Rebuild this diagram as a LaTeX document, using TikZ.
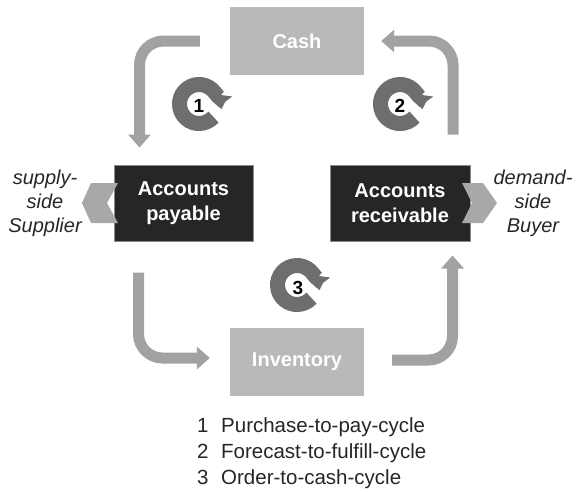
\documentclass[tikz,border=0pt]{standalone}
\usepackage{fontspec}
\setmainfont{Liberation Sans}
\usetikzlibrary{arrows.meta}
\definecolor{lightbox}{HTML}{B9B9B9}
\definecolor{darkbox}{HTML}{262626}
\definecolor{boxrim}{HTML}{8C8C8C}
\definecolor{flowgray}{HTML}{A2A2A2}
\definecolor{cyclegray}{HTML}{6E6E6E}
\definecolor{chevgray}{HTML}{A8A8A8}
\tikzset{
  lightnode/.style={fill=lightbox, minimum width=134pt, minimum height=68pt, inner sep=0pt,
    text=white, font=\fontsize{20}{24}\selectfont\bfseries},
  darknode/.style={fill=darkbox, draw=boxrim, line width=1pt, minimum height=76pt, inner sep=0pt,
    text=white, align=center, font=\fontsize{20}{25}\selectfont\bfseries},
  flow/.style={draw=flowgray, line width=11pt, rounded corners=24pt,
    -{Triangle[width=22pt,length=13pt]}},
  cyclearrow/.style={draw=cyclegray, line width=15pt,
    -{Triangle[width=24pt,length=12pt]}},
  cyclenum/.style={font=\fontsize{19}{19}\selectfont\bfseries, text=black, inner sep=0pt},
  sidetext/.style={align=center, font=\fontsize{20}{24}\selectfont\itshape, text=black!85},
  chevron/.style={fill=chevgray},
}
\begin{document}
\begin{tikzpicture}[x=1pt, y=-1pt]
\useasboundingbox (0,0) rectangle (587,491);

% boxes
\node[lightnode] (cash) at (297,41) {Cash};
\node[lightnode] (inv) at (297,362) {Inventory};
\node[darknode, minimum width=139pt] (ap) at (183.5,203) {Accounts\\payable};
\node[darknode, minimum width=140pt] (ar) at (400,203) {Accounts\\receivable};

% bent block arrows between the boxes
\draw[flow] ([xshift=-30pt]cash.west) -| ([xshift=26pt,yshift=17pt]ap.north west);
\draw[flow] ([xshift=-17.5pt,yshift=30pt]ar.north east) |- ([xshift=17pt]cash.east);
\draw[flow] ([xshift=25pt,yshift=-31pt]ap.south west) |- ([xshift=-20pt,yshift=4pt]inv.west);
\draw[flow] ([xshift=28pt,yshift=2pt]inv.east) -| ([xshift=-18pt,yshift=-14pt]ar.south east);

% chevrons towards supplier and buyer
\fill[chevron] (82,203) -- (91,183) -- (118,183) -- (107,203) -- (118,223) -- (91,223) -- cycle;
\fill[chevron] (462,183) -- (483,183) -- (497,203) -- (483,223) -- (462,223) -- (472,203) -- cycle;

% side labels
\node[sidetext] (supplier) at (45,203) {supply-\\side\\Supplier};
\node[sidetext] (buyer) at (533,203) {demand-\\side\\Buyer};

% clockwise cycle markers (drawn in an upward y frame around each centre)
\coordinate (c1) at (199,104);
\coordinate (c2) at (400,104);
\coordinate (c3) at (297,285);
\foreach \c in {c1,c2,c3}{
  \begin{scope}[shift={(\c)}, x=1pt, y=1pt]
    \draw[cyclearrow] (-42:19.5) arc[start angle=-42, end angle=-368, radius=19.5];
  \end{scope}
}
\node[cyclenum] (n1) at (199,106) {1};
\node[cyclenum] (n2) at (400,106) {2};
\node[cyclenum] (n3) at (298,288) {3};

% legend
\node[anchor=west, align=left, inner sep=0pt, text=black!85,
      font=\fontsize{20.5}{26}\selectfont] (legend) at (197,453)
  {\makebox[24pt][l]{1}Purchase-to-pay-cycle\\
   \makebox[24pt][l]{2}Forecast-to-fulfill-cycle\\
   \makebox[24pt][l]{3}Order-to-cash-cycle};
\end{tikzpicture}
\end{document}
